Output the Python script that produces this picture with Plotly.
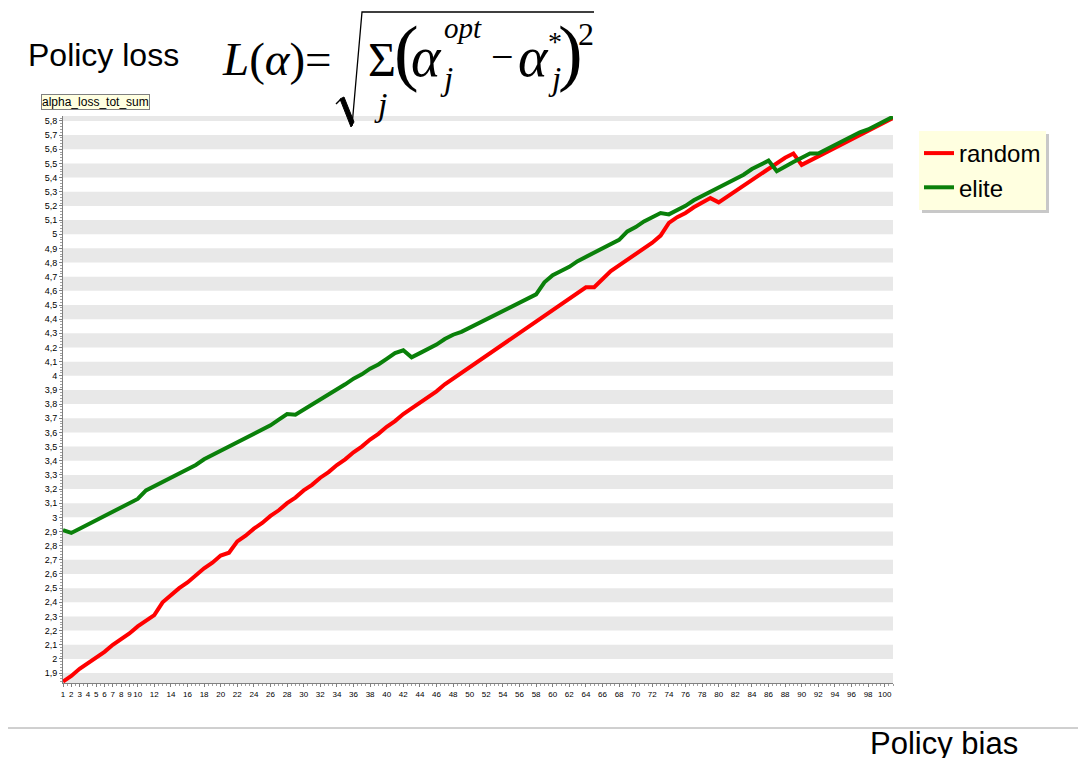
import plotly.graph_objects as go

# ---------------- data ----------------
policy_bias = list(range(1, 102))

random_loss = [
    1.84, 1.88, 1.93, 1.97, 2.01, 2.05, 2.10, 2.14, 2.18, 2.23,
    2.27, 2.31, 2.40, 2.45, 2.50, 2.54, 2.59, 2.64, 2.68, 2.73,
    2.75, 2.83, 2.87, 2.92, 2.96, 3.01, 3.05, 3.10, 3.14, 3.19,
    3.23, 3.28, 3.32, 3.37, 3.41, 3.46, 3.50, 3.55, 3.59, 3.64,
    3.68, 3.73, 3.77, 3.81, 3.85, 3.89, 3.94, 3.98, 4.02, 4.06,
    4.10, 4.14, 4.18, 4.22, 4.26, 4.30, 4.34, 4.38, 4.42, 4.46,
    4.50, 4.54, 4.58, 4.625, 4.625, 4.68, 4.74, 4.78, 4.82, 4.86,
    4.90, 4.94, 4.99, 5.08, 5.12, 5.15, 5.19, 5.22, 5.255, 5.225,
    5.265, 5.30, 5.34, 5.38, 5.42, 5.46, 5.50, 5.54, 5.57, 5.49,
    5.52, 5.55, 5.58, 5.61, 5.64, 5.67, 5.70, 5.73, 5.76, 5.79,
    5.82,
]

elite_loss = [
    2.91, 2.89, 2.92, 2.95, 2.98, 3.01, 3.04, 3.07, 3.10, 3.13,
    3.19, 3.22, 3.25, 3.28, 3.31, 3.34, 3.37, 3.41, 3.44, 3.47,
    3.50, 3.53, 3.56, 3.59, 3.62, 3.65, 3.69, 3.73, 3.725, 3.76,
    3.80, 3.83, 3.87, 3.90, 3.94, 3.98, 4.01, 4.05, 4.08, 4.12,
    4.16, 4.18, 4.13, 4.16, 4.19, 4.22, 4.26, 4.29, 4.31, 4.34,
    4.37, 4.40, 4.43, 4.46, 4.49, 4.52, 4.545, 4.575, 4.66, 4.71,
    4.74, 4.77, 4.81, 4.84, 4.87, 4.90, 4.93, 4.96, 5.02, 5.05,
    5.09, 5.12, 5.15, 5.14, 5.17, 5.20, 5.24, 5.27, 5.30, 5.33,
    5.36, 5.39, 5.42, 5.46, 5.49, 5.52, 5.445, 5.48, 5.51, 5.54,
    5.57, 5.57, 5.60, 5.63, 5.66, 5.69, 5.72, 5.74, 5.77, 5.80,
    5.83,
]

x_tick_values = list(range(1, 11)) + list(range(12, 101, 2))
y_range = [1.83, 5.835]
x_range = [1, 101]

# ---------------- layout geometry ----------------
W, H = 1078, 758
L, R, T, B = 63, 893, 116, 683
PW, PH = R - L, B - T


def px(xp):
    return (xp - L) / PW


def py(yp):
    return (B - yp) / PH


fig = go.Figure()
fig.add_trace(go.Scatter(x=policy_bias, y=random_loss, mode="lines", name="random",
                         line=dict(color="#FF0000", width=4)))
fig.add_trace(go.Scatter(x=policy_bias, y=elite_loss, mode="lines", name="elite",
                         line=dict(color="#0A800A", width=4)))

shapes = []
# alternating grey bands (every other 0.1 interval)
k = 18
while k / 10 < y_range[1]:
    y0 = max(k / 10, y_range[0])
    y1 = min((k + 1) / 10, y_range[1])
    shapes.append(dict(type="rect", xref="paper", yref="y", x0=0, x1=1, y0=y0, y1=y1,
                       fillcolor="#E8E8E8", line=dict(width=0), layer="below"))
    k += 2


def P(pts):
    return "M " + " L ".join(f"{px(a):.5f},{py(b):.5f}" for a, b in pts)


# radical sign of the formula
shapes.append(dict(type="path", xref="paper", yref="paper",
                   path=P([(336, 104), (341, 99)]), line=dict(color="black", width=1.5)))
shapes.append(dict(type="path", xref="paper", yref="paper",
                   path=P([(340, 99), (344, 97), (354, 122), (351, 127)]) + " Z",
                   fillcolor="black", line=dict(color="black", width=1)))
shapes.append(dict(type="path", xref="paper", yref="paper",
                   path=P([(352, 126), (362, 12), (594, 12)]), line=dict(color="black", width=1.3)))
# legend shadow
shapes.append(dict(type="rect", xref="paper", yref="paper",
                   x0=px(922), x1=px(1049), y0=py(213), y1=py(134),
                   fillcolor="#C8C8C8", line=dict(width=0), layer="above"))
# bottom rule
shapes.append(dict(type="line", xref="paper", yref="paper",
                   x0=px(8), x1=px(1078), y0=py(728), y1=py(728),
                   line=dict(color="#A0A0A0", width=1)))

ann = []


def txt(s, xc, ym, size, family="Liberation Serif", xanchor="center"):
    ann.append(dict(text=s, x=px(xc), y=py(ym), xref="paper", yref="paper",
                    xanchor=xanchor, yanchor="middle", showarrow=False,
                    font=dict(family=family, size=size, color="black")))


txt("Policy loss", 26, 55, 32, family="Liberation Sans", xanchor="left")
txt("<i>L</i>(<i>α</i>)=", 220, 59, 47, xanchor="left")
txt("Σ", 382, 59, 48)
txt("<i>j</i>", 380, 104, 34)
txt("(", 406.5, 52, 74)
txt("<i>α</i>", 426.5, 57, 56)
txt("<i>opt</i>", 463, 28, 29)
txt("<i>j</i>", 446.5, 79, 33)
txt("−", 502.5, 57, 40)
txt("<i>α</i>", 533.5, 57, 56)
txt("*", 554.5, 42, 28)
txt("<i>j</i>", 554, 79, 33)
txt(")", 570.5, 52, 74)
txt("2", 586, 34, 32)
txt("Policy bias", 868, 743, 31, family="Liberation Sans", xanchor="left")

ann.append(dict(text="alpha_loss_tot_sum", x=px(95), y=py(102), xref="paper", yref="paper",
                xanchor="center", yanchor="middle", showarrow=False,
                font=dict(family="Liberation Sans", size=12, color="black"),
                bgcolor="#FFFFE1", bordercolor="#808080", borderwidth=1, borderpad=0))

fig.update_layout(
    width=W, height=H,
    margin=dict(l=L, r=W - R, t=T, b=H - B, autoexpand=False),
    paper_bgcolor="white", plot_bgcolor="white",
    separators=",.",
    shapes=shapes, annotations=ann,
    showlegend=True,
    legend=dict(x=px(919), y=py(131), xanchor="left", yanchor="top",
                bgcolor="#FFFFE0", borderwidth=0,
                font=dict(family="Liberation Sans", size=24, color="black"),
                itemwidth=30, tracegroupgap=0),
    xaxis=dict(range=x_range, tickmode="array", tickvals=x_tick_values, tickangle=0,
               showgrid=False, zeroline=False, showline=True, linecolor="#808080",
               ticks="outside", ticklen=3, tickcolor="#808080", automargin=False,
               tickfont=dict(family="Liberation Sans", size=8, color="black"),
               minor=dict(dtick=0.5, ticks="outside", ticklen=2, tickcolor="#A0A0A0")),
    yaxis=dict(range=y_range, dtick=0.1, tick0=1.8,
               showgrid=False, zeroline=False, showline=True, linecolor="#808080",
               ticks="outside", ticklen=3, tickcolor="#808080", automargin=False,
               tickfont=dict(family="Liberation Sans", size=9, color="black"),
               minor=dict(dtick=0.02, ticks="outside", ticklen=2, tickcolor="#A0A0A0")),
)

fig.write_html("out.html", config={"displayModeBar": False},
               post_script="document.body.style.margin='0';")
